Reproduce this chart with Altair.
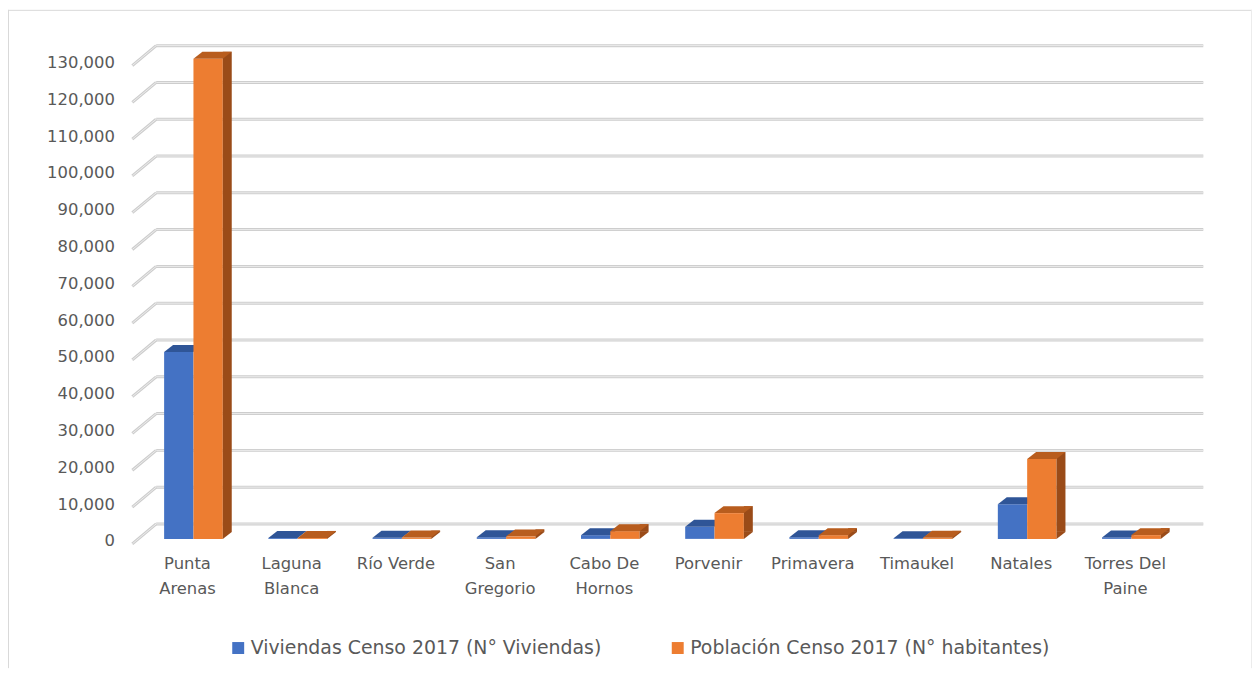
import json
import altair as alt
import pandas as pd

# ---------------- data ----------------
comunas = ["Punta Arenas", "Laguna Blanca", "Río Verde", "San Gregorio", "Cabo De Hornos",
           "Porvenir", "Primavera", "Timaukel", "Natales", "Torres Del Paine"]
tick_labels = [["Punta", "Arenas"], ["Laguna", "Blanca"], ["Río Verde"], ["San", "Gregorio"],
               ["Cabo De", "Hornos"], ["Porvenir"], ["Primavera"], ["Timaukel"], ["Natales"],
               ["Torres Del", "Paine"]]
series = ["Viviendas Censo 2017 (N° Viviendas)", "Población Censo 2017 (N° habitantes)"]
viviendas = [50800, 250, 300, 450, 1000, 3300, 450, 200, 9400, 400]
poblacion = [130500, 264, 358, 681, 2100, 7000, 1001, 282, 21700, 1021]
y_ticks = list(range(0, 130001, 10000))

rows = []
for i, c in enumerate(comunas):
    rows.append({"comuna": c, "serie": series[0], "valor": viviendas[i], "cero": 0})
    rows.append({"comuna": c, "serie": series[1], "valor": poblacion[i], "cero": 0})
df = pd.DataFrame(rows)
grid_df = pd.DataFrame({"valor": y_ticks})

# ---------------- layout / style ----------------
W, H = 1251, 662
BASE = 532          # pixel row of value 0 inside the view
PX = 3.7 / 1000     # pixels per unit
y_domain = [-(H - BASE) / PX, BASE / PX]

BLUE, BLUE_TOP = "#4472C4", "#2F5597"
ORANGE, ORANGE_TOP, ORANGE_SIDE = "#ED7D31", "#B85D1E", "#9A4B18"
TXT = "#595959"
FONT = "DejaVu Sans"
BW = 29.5           # bar width
DX, DY = 9, 7       # 3D depth
R = BW / 2
SIZE = (2 * R) ** 2
top_path = f"M-1,0L1,0L{1 + DX / R:.3f},{-DY / R:.3f}L{-1 + DX / R:.3f},{-DY / R:.3f}Z"
bot_tri = f"M1,0L1,{-DY / R:.3f}L{1 + DX / R:.3f},{-DY / R:.3f}Z"

label_map = "({" + ",".join(f"{json.dumps(c)}:{json.dumps(l, ensure_ascii=False)}"
                            for c, l in zip(comunas, tick_labels)) + "})[datum.label]"

xscale = alt.Scale(domain=comunas, paddingInner=0, paddingOuter=0.9685, align=0.6606, round=False)
yscale = alt.Scale(domain=y_domain, nice=False, zero=False)
xaxis = alt.Axis(orient="bottom", offset=-(H - 540), title=None, ticks=False, domain=False,
                 grid=False, labelAngle=0, labelPadding=9, labelExpr=label_map,
                 labelOffset=-6, labelFont=FONT, labelFontSize=16.5, labelColor=TXT,
                 labelLineHeight=25)
yaxis = alt.Axis(orient="left", offset=-109, title=None, ticks=False, domain=False, grid=False,
                 values=y_ticks, labelExpr="format(datum.value, ',')", labelPadding=2,
                 labelOffset=2, labelFont=FONT, labelFontSize=16.5, labelColor=TXT,
                 labelBaseline="middle")

X = alt.X("comuna:N", scale=xscale, axis=xaxis, sort=comunas)
Y = alt.Y("valor:Q", scale=yscale, axis=yaxis)
C = alt.Color("serie:N", scale=alt.Scale(domain=series, range=[BLUE, ORANGE]),
              legend=alt.Legend(orient="none", legendX=222, legendY=632, direction="horizontal",
                                title=None, symbolType="square", symbolSize=144,
                                symbolStrokeWidth=0, labelFont=FONT, labelFontSize=19,
                                labelColor=TXT, labelOffset=3, columnPadding=66,
                                labelLimit=0))

base = alt.Chart(df)
blue = base.transform_filter(alt.datum.serie == series[0])
orange = base.transform_filter(alt.datum.serie == series[1])

grid = alt.Chart(grid_df)
grid_back = grid.mark_rule(color="#cdcdcd", strokeWidth=3, yOffset=-15).encode(
    y=Y, x=alt.value(149), x2=alt.value(1202))
grid_back_in = grid.mark_rule(color="#ececec", strokeWidth=1, yOffset=-15).encode(
    y=Y, x=alt.value(149), x2=alt.value(1202))
grid_diag = grid.mark_rule(color="#cdcdcd", strokeWidth=3, yOffset=5, y2Offset=-15).encode(
    y=Y, y2=alt.Y2("valor:Q"), x=alt.value(125), x2=alt.value(149))
grid_diag_in = grid.mark_rule(color="#ececec", strokeWidth=1, yOffset=5, y2Offset=-15).encode(
    y=Y, y2=alt.Y2("valor:Q"), x=alt.value(125), x2=alt.value(149))

blue_bar = blue.mark_bar(width=BW, xOffset=-R).encode(x=X, y=Y, color=C)
blue_top = blue.mark_point(shape=top_path, size=SIZE, filled=True, opacity=1, strokeWidth=0,
                           xOffset=-R, color=BLUE_TOP).encode(x=X, y=Y)
orange_bar = orange.mark_bar(width=BW, xOffset=R).encode(x=X, y=Y, color=C)
orange_side = orange.mark_rule(strokeWidth=DX, xOffset=R + BW / 2 + DX / 2, yOffset=-DY,
                               y2Offset=-DY, color=ORANGE_SIDE).encode(
    x=X, y=Y, y2=alt.Y2("cero:Q"))
orange_bot = orange.mark_point(shape=bot_tri, size=SIZE, filled=True, opacity=1, strokeWidth=0,
                               xOffset=R, color=ORANGE_SIDE).encode(
    x=X, y=alt.Y("cero:Q", scale=yscale, axis=yaxis))
orange_top = orange.mark_point(shape=top_path, size=SIZE, filled=True, opacity=1, strokeWidth=0,
                               xOffset=R, color=ORANGE_TOP).encode(x=X, y=Y)

frame = alt.Chart(alt.Data(values=[{"k": 1}]))
b_left = frame.mark_rule(color="#d9d9d9", strokeWidth=1).encode(
    x=alt.value(0.5), y=alt.value(0), y2=alt.value(H))
b_top = frame.mark_rule(color="#d9d9d9", strokeWidth=1).encode(
    y=alt.value(0.5), x=alt.value(0), x2=alt.value(W))
b_right = frame.mark_rule(color="#ececec", strokeWidth=1).encode(
    x=alt.value(W - 0.5), y=alt.value(0), y2=alt.value(H))

chart = alt.layer(
    b_left, b_top, b_right,
    grid_back, grid_back_in, grid_diag, grid_diag_in,
    blue_bar, blue_top, orange_bar, orange_side, orange_bot, orange_top,
).properties(
    width=W, height=H, padding=0,
    autosize=alt.AutoSizeParams(type="none"),
    background="white",
).configure_view(stroke="transparent")

chart.save("out.html", embed_options={"renderer": "svg", "actions": False})
